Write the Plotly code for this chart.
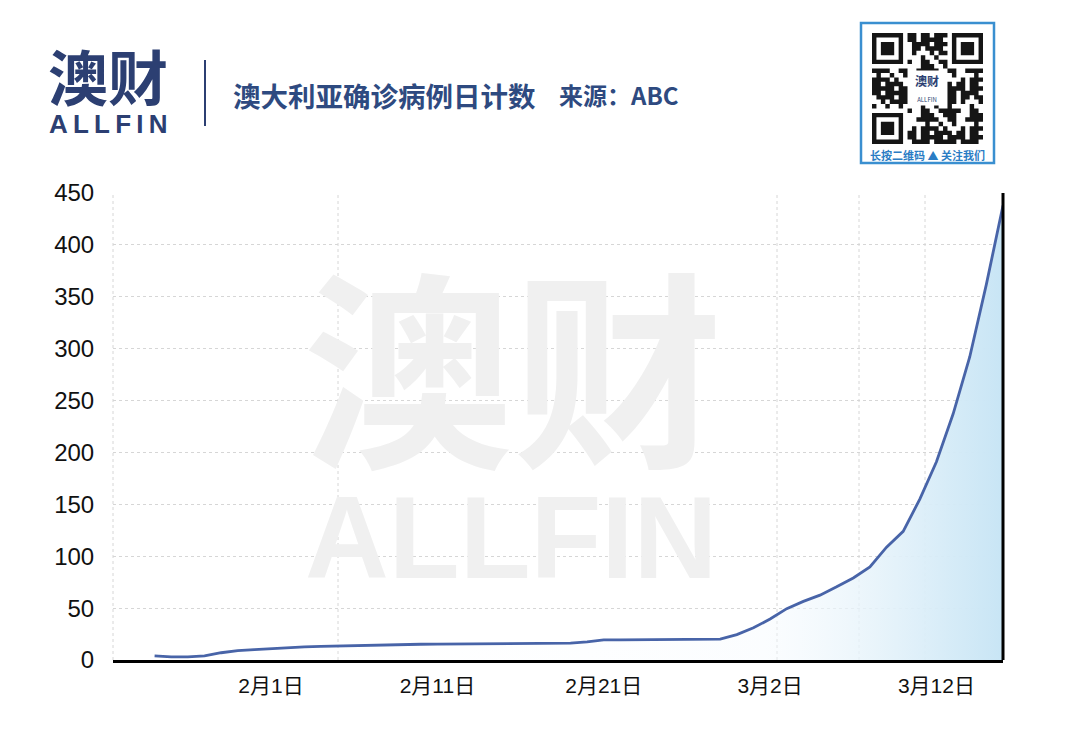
import plotly.graph_objects as go
import pandas as pd

# ---------------- data ----------------
dates = pd.date_range("2020-01-25", "2020-03-16", freq="D")
cases = [4, 3, 3, 4, 7, 9, 10, 11, 12, 12.7, 13.1, 13.5, 13.9, 14.5, 15, 15.1,
         15.2, 15.3, 15.5, 15.6, 15.7, 15.8, 15.9, 16.1, 16.2, 16.3, 17.4, 19.3,
         19.4, 19.5, 19.7, 19.8, 19.9, 20, 20.1, 24.5, 31, 39.5, 49.5, 56.5, 62.5,
         70.5, 79, 89.7, 108.7, 124, 155, 191, 237, 292, 362, 438]
tick_dates = ["2020-02-01", "2020-02-11", "2020-02-21", "2020-03-02", "2020-03-12"]
tick_labels = ["2月1日", "2月11日", "2月21日", "3月2日", "3月12日"]
y_ticks = [0, 50, 100, 150, 200, 250, 300, 350, 400, 450]

title_text = "澳大利亚确诊病例日计数"
source_text = "来源：ABC"

# ---------------- geometry helpers (pixel -> paper) ----------------
L, R, T, B = 113, 1003, 193, 660
W, H = R - L, B - T
def px(x):
    return (x - L) / W
def py(y):
    return (B - y) / H

NAVY = "#2c3f72"
LINE = "#4864a8"
GRID = "#d6d6d6"
CJK = "Noto Sans CJK SC, Liberation Sans, Arial, sans-serif"
LAT = "Liberation Sans, Arial, Noto Sans CJK SC, sans-serif"

fig = go.Figure()

fig.add_trace(go.Scatter(
    x=dates, y=cases, mode="lines",
    line=dict(color=LINE, width=2.8),
    fill="tozeroy",
    fillgradient=dict(type="horizontal", colorscale=[
        [0.0, "rgba(255,255,255,0)"],
        [0.72, "rgba(245,250,254,0.4)"],
        [0.86, "rgba(228,242,250,0.9)"],
        [1.0, "rgba(200,229,245,1)"]]),
    hoverinfo="skip", showlegend=False,
))

shapes = []
# irregular dotted vertical gridlines
for xv in [0.0, px(338), px(777), px(859), px(925)]:
    shapes.append(dict(type="line", xref="paper", yref="paper", x0=xv, x1=xv, y0=0, y1=1,
                       line=dict(color=GRID, width=1, dash="dot"), layer="below"))
# right black frame line
shapes.append(dict(type="line", xref="paper", yref="paper", x0=1, x1=1, y0=0, y1=1,
                   line=dict(color="black", width=3)))
# header separator
shapes.append(dict(type="line", xref="paper", yref="paper", x0=px(205), x1=px(205),
                   y0=py(60), y1=py(126), line=dict(color=NAVY, width=2)))

# QR code placeholder box
shapes.append(dict(type="rect", xref="paper", yref="paper", x0=px(861), x1=px(994),
                   y0=py(163), y1=py(23), line=dict(color="#3a8fd0", width=2.5),
                   fillcolor="white"))
# QR modules pattern (decorative)
qx0, qy0, n, m = 872, 33, 25, 4.44
path = []
def cell(i, j):
    x0 = qx0 + i * m
    y0 = qy0 + j * m
    return f"M{px(x0)},{py(y0)} L{px(x0+m)},{py(y0)} L{px(x0+m)},{py(y0+m)} L{px(x0)},{py(y0+m)} Z"
def finder(ci, cj):
    out = []
    for i in range(7):
        for j in range(7):
            if i in (0, 6) or j in (0, 6) or (2 <= i <= 4 and 2 <= j <= 4):
                out.append((ci + i, cj + j))
    return out
cells = finder(0, 0) + finder(n - 7, 0) + finder(0, n - 7)
for i in range(n):
    for j in range(n):
        if (i < 8 and j < 8) or (i >= n - 8 and j < 8) or (i < 8 and j >= n - 8):
            continue
        if 8 <= i <= 16 and 9 <= j <= 15:
            continue
        if ((i * i + 3 * j * j + 5 * i * j + 2 * i + j) % 11) < 6:
            cells.append((i, j))
for (i, j) in cells:
    path.append(cell(i, j))
shapes.append(dict(type="path", xref="paper", yref="paper", path=" ".join(path),
                   fillcolor="#151515", line=dict(width=0)))

def ann(x, y, text, size, color, family=CJK, xanchor="center", weight=None, **kw):
    f = dict(family=family, size=size, color=color)
    if weight:
        f["weight"] = weight
    return dict(x=px(x), y=py(y), xref="paper", yref="paper", text=text,
                xanchor=xanchor, yanchor="middle", showarrow=False, font=f, **kw)

annotations = [
    # logo
    ann(108, 74, "<b>澳财</b>", 60, NAVY, weight=900),
    ann(108, 124, "<b>A\u2009L\u2009L\u2009F\u2009I\u2009N</b>", 26, NAVY, family=LAT),
    # title
    ann(231, 95, f"<b>{title_text}</b>", 27.5, "#2e4a80", xanchor="left"),
    ann(557, 95, f"<b>{source_text}</b>", 24, "#2e4a80", xanchor="left"),
    # QR center logo + caption
    ann(927, 88, "<b>澳财</b><br><span style='font-size:6px'>ALLFIN</span>", 12, NAVY,
        bgcolor="white"),
    ann(927, 155, "<b>长按二维码 ▲ 关注我们</b>", 11, "#2a7cc4"),
    # watermark
    ann(513, 360, "<b>澳财</b>", 210, "#f0f0f0", weight=900),
    ann(511, 538, "<b>ALLFIN</b>", 116, "#f0f0f0", family=LAT),
]

fig.update_layout(
    width=1067, height=733,
    margin=dict(l=L, r=1067 - R, t=T, b=733 - B, pad=0),
    paper_bgcolor="white", plot_bgcolor="white",
    shapes=shapes, annotations=annotations,
    showlegend=False,
    xaxis=dict(type="date", range=["2020-01-22 12:00", "2020-03-16"],
               tickvals=tick_dates, ticktext=tick_labels,
               showgrid=False, zeroline=False,
               showline=True, linecolor="black", linewidth=3,
               ticks="outside", ticklen=5, tickcolor="rgba(0,0,0,0)",
               tickfont=dict(family=LAT, size=21, color="#111111")),
    yaxis=dict(range=[0, 450], tickvals=y_ticks,
               showgrid=True, gridcolor=GRID, gridwidth=1, griddash="dot",
               zeroline=False, showline=False,
               ticks="outside", ticklen=13, tickcolor="rgba(0,0,0,0)",
               tickfont=dict(family=LAT, size=24, color="#111111")),
)

fig.write_html("out.html")
